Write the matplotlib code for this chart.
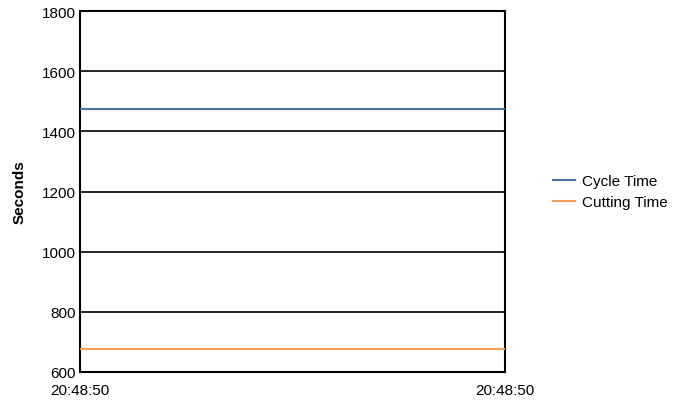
import matplotlib
matplotlib.use("Agg")
import matplotlib.pyplot as plt

# Sampled times and the two timing series (seconds)
times = ["20:48:50", "20:48:50"]
cycle_time = [1474, 1474]
cutting_time = [676, 676]
y_ticks = [600, 800, 1000, 1200, 1400, 1600, 1800]

plt.rcParams["font.family"] = ["Liberation Sans", "DejaVu Sans"]

fig = plt.figure(figsize=(6.91, 4.02), dpi=100)
ax = fig.add_axes([80 / 691, 1 - 373 / 402, 425 / 691, 361 / 402])

x = list(range(len(times)))
ax.plot(x, cycle_time, color="#4a72a6", lw=1.5, label="Cycle Time", zorder=3)
ax.plot(x, cutting_time, color="#f5a054", lw=1.5, label="Cutting Time", zorder=3)

ax.set_xlim(x[0], x[-1])
ax.set_ylim(y_ticks[0], y_ticks[-1])
ax.set_yticks(y_ticks)
ax.set_xticks(x)
ax.set_xticklabels(times)
ax.tick_params(axis="both", length=0, labelsize=11, colors="black")
ax.tick_params(axis="y", pad=3)
ax.tick_params(axis="x", pad=8)
ax.grid(axis="y", color="black", lw=1.2)
ax.set_axisbelow(True)
for s in ax.spines.values():
    s.set_color("black")
    s.set_linewidth(1.5)

ax.set_ylabel("Seconds", fontsize=11, fontweight="bold", labelpad=11)

ax.legend(loc="center left", bbox_to_anchor=(1.081, 0.5), frameon=False,
          fontsize=11, handlelength=1.45, handletextpad=0.46, labelspacing=0.45)

fig.savefig("out.png", dpi=100)
